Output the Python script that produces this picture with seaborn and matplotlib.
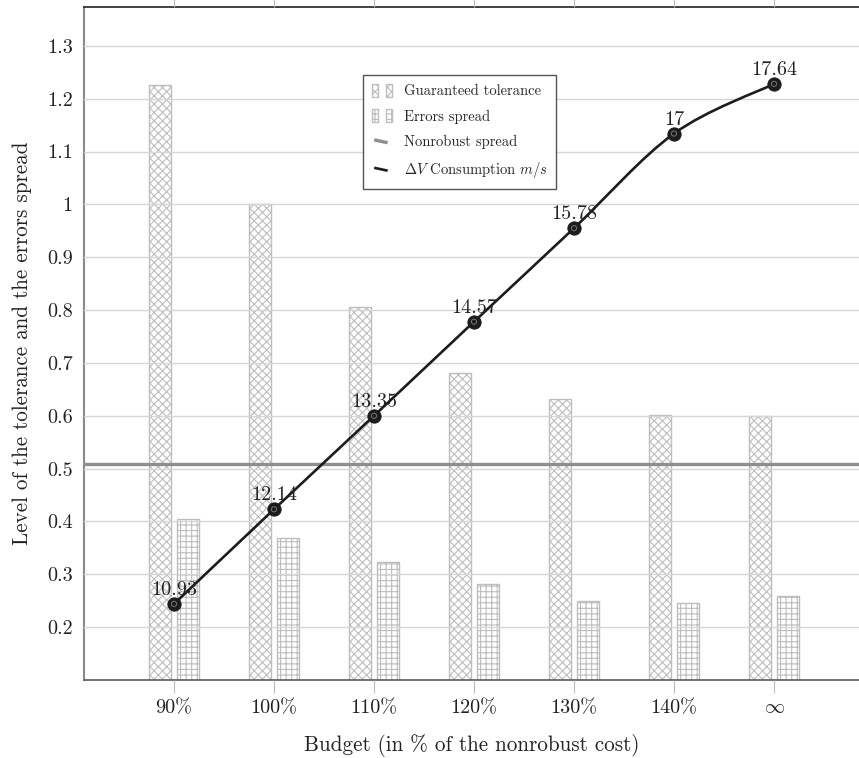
import numpy as np
import pandas as pd
import matplotlib
matplotlib.use("Agg")
import matplotlib.pyplot as plt
import seaborn as sns
from matplotlib.path import Path
from matplotlib.patches import PathPatch, Rectangle
from matplotlib.lines import Line2D
from matplotlib.legend_handler import HandlerTuple, HandlerBase

# ---- data ----
categories = ["90%", "100%", "110%", "120%", "130%", "140%", "inf"]
tick_labels = ["90%", "100%", "110%", "120%", "130%", "140%", r"$\infty$"]
guaranteed = [1.226, 1.000, 0.806, 0.680, 0.632, 0.602, 0.599]
errors = [0.405, 0.368, 0.323, 0.282, 0.250, 0.246, 0.259]
dv_level = [0.244, 0.423, 0.600, 0.778, 0.955, 1.134, 1.228]
dv_labels = ["10.93", "12.14", "13.35", "14.57", "15.78", "17", "17.64"]
nonrobust = 0.508
y_ticks = [0.2, 0.3, 0.4, 0.5, 0.6, 0.7, 0.8, 0.9, 1.0, 1.1, 1.2, 1.3]
y_tick_labels = ["0.2", "0.3", "0.4", "0.5", "0.6", "0.7", "0.8", "0.9", "1", "1.1", "1.2", "1.3"]

sns.set_style("white")
plt.rcParams["font.family"] = ["cmr10", "DejaVu Serif"]
plt.rcParams["mathtext.fontset"] = "cm"
plt.rcParams["axes.formatter.use_mathtext"] = True
plt.rcParams["hatch.linewidth"] = 0.8

fig = plt.figure(figsize=(8.59, 7.58), dpi=100)
ax = fig.add_axes([84 / 859, 1 - 680 / 758, 1 - 84 / 859, 673 / 758])

df = pd.DataFrame({
    "budget": categories * 2,
    "value": guaranteed + errors,
    "series": ["Guaranteed tolerance"] * len(categories) + ["Errors spread"] * len(categories),
})
sns.barplot(data=df, x="budget", y="value", hue="series", order=categories,
            width=0.56, gap=0.18, errorbar=None, ax=ax,
            palette=["white", "white"], saturation=1, legend=False,
            edgecolor="#bdbdbd", linewidth=1.0)

hatch_col = "#bdbdbd"
for cont, h in zip(ax.containers, ["xxxx", "+++"]):
    for bar in cont:
        bar.set_hatch(h)
        bar.set_edgecolor(hatch_col)
        bar.set_zorder(2)

# Nonrobust spread line
ax.axhline(nonrobust, color="#8e8e8e", lw=2.4, zorder=4)

# smooth Delta V curve (Catmull-Rom style bezier through the points)
xs = np.arange(len(dv_level), dtype=float)
ys = np.array(dv_level, dtype=float)
pts = np.column_stack([xs, ys])
verts = [tuple(pts[0])]
codes = [Path.MOVETO]
n = len(pts)
for i in range(n - 1):
    p0 = pts[i - 1] if i > 0 else pts[i]
    p1 = pts[i]
    p2 = pts[i + 1]
    p3 = pts[i + 2] if i + 2 < n else pts[i + 1]
    c1 = p1 + (p2 - p0) / 6.0
    c2 = p2 - (p3 - p1) / 6.0
    verts += [tuple(c1), tuple(c2), tuple(p2)]
    codes += [Path.CURVE4] * 3
ax.add_patch(PathPatch(Path(verts, codes), facecolor="none", edgecolor="#1c1c1c",
                       lw=1.9, zorder=5))

line_df = pd.DataFrame({"budget": categories, "level": dv_level})
sns.scatterplot(data=line_df, x="budget", y="level", ax=ax, s=90, color="#1c1c1c",
                edgecolor="#1c1c1c", zorder=6, legend=False)
sns.scatterplot(data=line_df, x="budget", y="level", ax=ax, s=14, facecolor="none",
                edgecolor="#777777", linewidth=0.7, zorder=7, legend=False)

for xi, yi, lab in zip(xs, ys, dv_labels):
    ax.annotate(lab, (xi, yi), xytext=(0, 6.5), textcoords="offset points",
                ha="center", va="baseline", fontsize=14.5, color="#222222", zorder=8)

# axes styling
ax.set_xlim(-0.9, 6.85)
ax.set_ylim(0.1, 1.3735)
ax.set_yticks(y_ticks)
ax.set_yticklabels(y_tick_labels)
ax.set_xticks(range(len(categories)))
ax.set_xticklabels(tick_labels)
ax.tick_params(axis="y", length=0, pad=8, labelsize=14.5, labelcolor="#222222")
ax.tick_params(axis="x", which="both", bottom=True, top=True, direction="out",
               length=9, width=0.8, color="#bbbbbb", pad=5, labelsize=14.5,
               labelcolor="#222222")
ax.grid(axis="y", color="#d6d6d6", lw=1.0)
ax.grid(axis="x", visible=False)
ax.set_axisbelow(False)
for gl in ax.get_ygridlines():
    gl.set_zorder(3)

ax.spines["right"].set_visible(False)
ax.spines["top"].set_color("#333333")
ax.spines["top"].set_linewidth(1.3)
ax.spines["left"].set_color("#8a8a8a")
ax.spines["left"].set_linewidth(1.5)
ax.spines["bottom"].set_color("#666666")
ax.spines["bottom"].set_linewidth(1.3)

ax.set_xlabel("Budget (in % of the nonrobust cost)", fontsize=15.2, color="#222222", labelpad=12)
ax.set_ylabel("Level of the tolerance and the errors spread", fontsize=15.2, color="#222222",
              labelpad=11)

# legend
def bar_handle(h):
    return Rectangle((0, 0), 1, 1, facecolor="white", edgecolor=hatch_col, hatch=h, lw=1.0)


class SlantLineHandler(HandlerBase):
    def create_artists(self, legend, orig_handle, xdescent, ydescent, width, height,
                       fontsize, trans):
        x0 = -xdescent + width * 0.12
        x1 = -xdescent + width * 0.78
        y0 = -ydescent + height * 0.60
        y1 = -ydescent + height * 0.38
        ln = Line2D([x0, x1], [y0, y1], color=orig_handle.get_color(),
                    lw=orig_handle.get_linewidth(), solid_capstyle="butt")
        ln.set_transform(trans)
        return [ln]


handles = [
    (bar_handle("xxxx"), bar_handle("xxxx")),
    (bar_handle("+++"), bar_handle("+++")),
    Line2D([], [], color="#8e8e8e", lw=2.4),
    Line2D([], [], color="#1c1c1c", lw=1.9),
]
labels = ["Guaranteed tolerance", "Errors spread", "Nonrobust spread",
          r"$\Delta V$ Consumption $m/s$"]
leg = ax.legend(handles, labels, loc="upper left", bbox_to_anchor=(0.36, 0.899),
                borderaxespad=0, fontsize=10.5, frameon=True, fancybox=False,
                framealpha=1, edgecolor="#555555", handlelength=1.4, handleheight=1.0,
                handletextpad=0.8, labelspacing=0.75, borderpad=0.6,
                handler_map={tuple: HandlerTuple(ndivide=None, pad=0.5),
                             Line2D: SlantLineHandler()})
leg.get_frame().set_linewidth(1.0)
leg.set_zorder(10)

fig.savefig("out.png", dpi=100)
